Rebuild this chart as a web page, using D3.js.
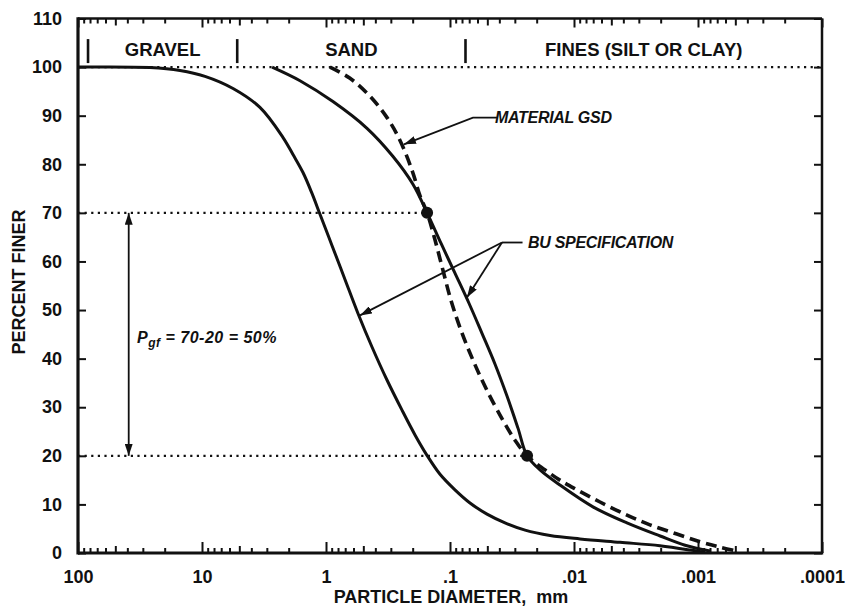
<!DOCTYPE html>
<html><head><meta charset="utf-8">
<script src="https://cdn.jsdelivr.net/npm/d3@7"></script>
<style>
body{margin:0;background:#fff}
svg{display:block}
text{font-family:"Liberation Sans",Arial,Helvetica,sans-serif;fill:#111}
</style>
</head><body>
<svg id="c" width="847" height="612"></svg>
<script>
// ---------- data ----------
const yTicks = [0,10,20,30,40,50,60,70,80,90,100,110];
const xMajor = [100,10,1,0.1,0.01,0.001,0.0001];
const xMajorLabels = ["100","10","1",".1",".01",".001",".0001"];
const bandBounds = [83, 5.2, 0.075];
const bandLabels = ["GRAVEL","SAND","FINES (SILT OR CLAY)"];

// BU specification, coarse limit (left solid)
const coarseD = [100,26.3,15.05,9.46,5.62,3.41,2.22,1.846,1.533,1.297,1.118,0.895,0.703,0.552,0.4256,0.3222,0.2438,0.1915,0.1533,0.1204,0.0912,0.069,0.0503,0.036,0.0248,0.0156,0.00895,0.00426,0.00203,0.00115,0.00088];
const coarseP = [100,99.9,99.3,98.1,95.6,91.7,85.5,82.0,78.3,74.0,69.7,63.3,56.3,49.3,42.4,35.6,29.4,24.3,20.1,16.2,13.0,10.3,8.0,6.2,4.7,3.6,2.9,2.2,1.5,0.6,0.1];
// BU specification, fine limit (right solid)
const fineD = [2.72,1.62,0.879,0.467,0.288,0.199,0.153,0.118,0.0912,0.0703,0.0552,0.0434,0.0347,0.0283,0.0239,0.0188,0.0130,0.00703,0.00374,0.00202,0.00127,0.0008];
const fineP = [100,97.2,92.9,87.4,81.6,75.9,70.0,63.7,57.6,51.4,45.2,38.9,32.3,25.7,20.0,17.1,14.0,9.5,6.2,3.5,1.6,0.4];
// Material GSD (dashed)
const matD = [0.929,0.640,0.442,0.322,0.253,0.202,0.175,0.153,0.132,0.114,0.0982,0.0815,0.0653,0.0504,0.0374,0.0299,0.0239,0.0171,0.0130,0.00946,0.00617,0.00374,0.00244,0.00148,0.00096,0.000665,0.000484];
const matP = [100,97.7,94.0,89.6,84.9,78.7,73.6,70.0,64.4,58.2,52.0,45.8,39.7,33.5,27.3,23.2,20.0,17.1,15.0,13.0,10.5,7.8,5.8,3.9,2.3,1.2,0.4];

// marked points (70% and 20%)
const markD = [0.153, 0.0239];
const markP = [70, 20];
const pHigh = 70, pLow = 20, pDiff = 50;
const pArrowD = 39;

// ---------- layout ----------
const svg = d3.select("#c");
const X0 = 78, X1 = 822, Y0 = 553, Y1 = 18.5;
const x = d3.scaleLog().domain([100, 0.0001]).range([X0, X1]);
const y = d3.scaleLinear().domain([0, 110]).range([Y0, Y1]);
const ink = "#111";

// minor tick values
const minor = [], minorMid = [];
for (let e = 1; e >= -4; e--) {
  for (let k = 2; k <= 9; k++) {
    const v = k * Math.pow(10, e);
    if (v < 100 && v > 0.0001) (k === 5 ? minorMid : minor).push(v);
  }
}

// ---------- dotted reference lines ----------
function dline(d1, d2, p) {
  svg.append("line").attr("x1", x(d1)).attr("x2", x(d2)).attr("y1", y(p)).attr("y2", y(p))
    .attr("stroke", ink).attr("stroke-width", 2.2).attr("stroke-dasharray", "2.2,4.4");
}
dline(100, 0.0001, 100);
dline(100, markD[0], pHigh);
dline(100, markD[1], pLow);

// ---------- curves ----------
const line = d3.line().x(d => x(d[0])).y(d => y(d[1])).curve(d3.curveCatmullRom.alpha(0.5));
const zip = (a, b) => a.map((v, i) => [v, b[i]]);
svg.append("path").attr("d", line(zip(coarseD, coarseP))).attr("fill", "none").attr("stroke", ink).attr("stroke-width", 3);
svg.append("path").attr("d", line(zip(fineD, fineP))).attr("fill", "none").attr("stroke", ink).attr("stroke-width", 3);
svg.append("path").attr("d", line(zip(matD, matP))).attr("fill", "none").attr("stroke", ink).attr("stroke-width", 3.6).attr("stroke-dasharray", "11,6");

svg.selectAll("circle.mk").data(zip(markD, markP)).join("circle").attr("class", "mk")
  .attr("cx", d => x(d[0])).attr("cy", d => y(d[1])).attr("r", 6).attr("fill", ink);

// ---------- axes ----------
function clean(g) { g.select(".domain").remove(); g.selectAll("line").attr("stroke", ink).attr("stroke-width", 2); }
const yAxisL = svg.append("g").attr("transform", `translate(${X0},0)`)
  .call(d3.axisLeft(y).tickValues(yTicks).tickSize(-8).tickPadding(16).tickFormat(d3.format("d")));
clean(yAxisL);
yAxisL.selectAll("text").attr("font-size", 18).attr("font-weight", "bold").attr("fill", ink);
const yAxisR = svg.append("g").attr("transform", `translate(${X1},0)`)
  .call(d3.axisRight(y).tickValues(yTicks).tickSize(-8).tickFormat(""));
clean(yAxisR);

const xAxisB = svg.append("g").attr("transform", `translate(0,${Y0})`)
  .call(d3.axisBottom(x).tickValues(xMajor).tickSize(-11).tickPadding(17).tickFormat((d, i) => xMajorLabels[i]));
clean(xAxisB);
xAxisB.selectAll("text").attr("font-size", 18).attr("font-weight", "bold").attr("fill", ink);
clean(svg.append("g").attr("transform", `translate(0,${Y0})`).call(d3.axisBottom(x).tickValues(minor).tickSize(-5).tickFormat("")));
clean(svg.append("g").attr("transform", `translate(0,${Y0})`).call(d3.axisBottom(x).tickValues(minorMid).tickSize(-7).tickFormat("")));
clean(svg.append("g").attr("transform", `translate(0,${Y1})`).call(d3.axisTop(x).tickValues(xMajor).tickSize(-9).tickFormat("")));
clean(svg.append("g").attr("transform", `translate(0,${Y1})`).call(d3.axisTop(x).tickValues(minor).tickSize(-5).tickFormat("")));
clean(svg.append("g").attr("transform", `translate(0,${Y1})`).call(d3.axisTop(x).tickValues(minorMid).tickSize(-7).tickFormat("")));

// frame
svg.append("line").attr("x1", X0).attr("x2", X1).attr("y1", Y1).attr("y2", Y1).attr("stroke", ink).attr("stroke-width", 2.5);
svg.append("line").attr("x1", X1).attr("x2", X1).attr("y1", Y1).attr("y2", Y0).attr("stroke", ink).attr("stroke-width", 2.5);
svg.append("line").attr("x1", X0).attr("x2", X1 + 1.2).attr("y1", Y0).attr("y2", Y0).attr("stroke", ink).attr("stroke-width", 3.2);
svg.append("line").attr("x1", X0).attr("x2", X0).attr("y1", Y1 - 1.2).attr("y2", Y0 + 1.6).attr("stroke", ink).attr("stroke-width", 3.2);

// axis titles
svg.append("text").attr("x", 451).attr("y", 603).attr("text-anchor", "middle")
  .attr("font-size", 18).attr("font-weight", "bold").attr("xml:space", "preserve").text("PARTICLE DIAMETER,  mm");
svg.append("text").attr("transform", "translate(25,282) rotate(-90)").attr("text-anchor", "middle")
  .attr("font-size", 18).attr("font-weight", "bold").text("PERCENT FINER");

// ---------- soil bands ----------
svg.selectAll("line.band").data(bandBounds).join("line").attr("class", "band")
  .attr("x1", d => x(d)).attr("x2", d => x(d)).attr("y1", y(100) - 28).attr("y2", y(100) - 4)
  .attr("stroke", ink).attr("stroke-width", 2.6);
const bandEdges = bandBounds.concat([0.0001]);
svg.selectAll("text.band").data(bandLabels).join("text").attr("class", "band")
  .attr("x", (d, i) => x(Math.sqrt(bandEdges[i] * bandEdges[i + 1])))
  .attr("y", y(100) - 11).attr("text-anchor", "middle")
  .attr("font-size", 18.5).attr("font-weight", "bold").text(d => d);

// ---------- annotations ----------
const defs = svg.append("defs");
defs.append("marker").attr("id", "ah").attr("viewBox", "0 0 12 8").attr("refX", 12).attr("refY", 4)
  .attr("markerWidth", 12).attr("markerHeight", 8).attr("markerUnits", "userSpaceOnUse")
  .attr("orient", "auto-start-reverse")
  .append("path").attr("d", "M0,0 L12,4 L0,8 Z").attr("fill", ink);

function leader(pts, endArrow) {
  const p = svg.append("path").attr("d", d3.line()(pts.map(q => [x(q[0]), y(q[1])])))
    .attr("fill", "none").attr("stroke", ink).attr("stroke-width", 1.8);
  if (endArrow) p.attr("marker-end", "url(#ah)");
  return p;
}
// MATERIAL GSD
leader([[0.041, 89.6], [0.0653, 89.6], [0.235, 84.1]], true);
svg.append("text").attr("x", x(0.0434)).attr("y", y(89.6)).attr("dy", "0.35em")
  .attr("font-size", 16).attr("font-weight", "bold").attr("font-style", "italic").attr("letter-spacing", -0.3).text("MATERIAL GSD");
// BU SPECIFICATION
leader([[0.026, 63.9], [0.0381, 63.9]], false);
leader([[0.0381, 63.9], [0.532, 48.9]], true);
leader([[0.0381, 63.9], [0.073, 52.6]], true);
svg.append("text").attr("x", x(0.0235)).attr("y", y(63.9)).attr("dy", "0.35em")
  .attr("font-size", 16).attr("font-weight", "bold").attr("font-style", "italic").attr("letter-spacing", -0.3).text("BU SPECIFICATION");

// double arrow for P
svg.append("line").attr("x1", x(pArrowD)).attr("x2", x(pArrowD)).attr("y1", y(pHigh)).attr("y2", y(pLow))
  .attr("stroke", ink).attr("stroke-width", 1.8).attr("marker-start", "url(#ah)").attr("marker-end", "url(#ah)");
const pt = svg.append("text").attr("x", x(33.4)).attr("y", y(44.4)).attr("dy", "0.35em")
  .attr("font-size", 16).attr("font-weight", "bold").attr("font-style", "italic").attr("letter-spacing", 0.5);
pt.append("tspan").text("P");
pt.append("tspan").attr("font-size", 12).attr("dy", 4).text("gf");
pt.append("tspan").attr("dy", -4).attr("xml:space", "preserve").text(` = ${pHigh}-${pLow} = ${pDiff}%`);
</script>
</body></html>
